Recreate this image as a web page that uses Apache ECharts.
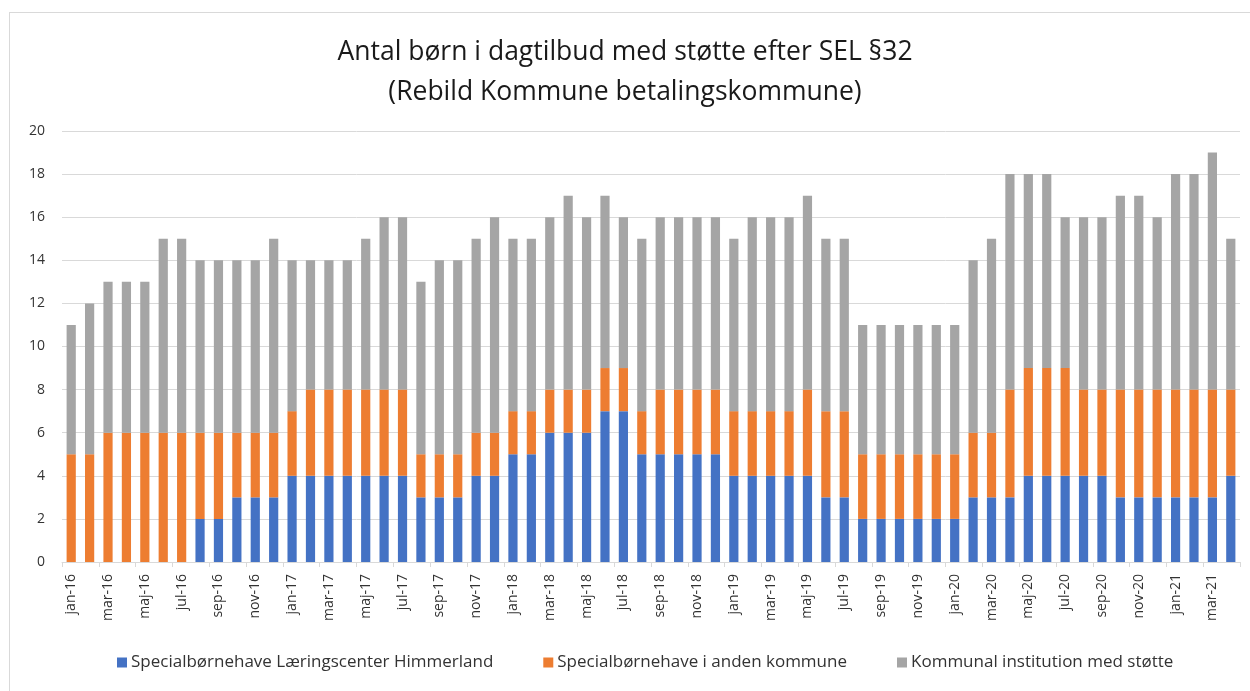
<!DOCTYPE html>
<html>
<head>
<meta charset="utf-8">
<script src="https://cdn.jsdelivr.net/npm/echarts@6/dist/echarts.min.js"></script>
<style>
html,body{margin:0;padding:0;background:#fff;}
#frame{position:absolute;left:9px;top:12px;width:1260px;height:700px;border:1px solid #d9d9d9;box-sizing:border-box;}
#chart{position:absolute;left:0;top:0;width:1250px;height:691px;}
</style>
</head>
<body>
<div id="frame"></div>
<div id="chart"></div>
<script>
const categories = [
 'jan-16','feb-16','mar-16','apr-16','maj-16','jun-16','jul-16','aug-16','sep-16','okt-16','nov-16','dec-16',
 'jan-17','feb-17','mar-17','apr-17','maj-17','jun-17','jul-17','aug-17','sep-17','okt-17','nov-17','dec-17',
 'jan-18','feb-18','mar-18','apr-18','maj-18','jun-18','jul-18','aug-18','sep-18','okt-18','nov-18','dec-18',
 'jan-19','feb-19','mar-19','apr-19','maj-19','jun-19','jul-19','aug-19','sep-19','okt-19','nov-19','dec-19',
 'jan-20','feb-20','mar-20','apr-20','maj-20','jun-20','jul-20','aug-20','sep-20','okt-20','nov-20','dec-20',
 'jan-21','feb-21','mar-21','apr-21'
];
const seriesNames = ['Specialbørnehave Læringscenter Himmerland','Specialbørnehave i anden kommune','Kommunal institution med støtte'];
const laeringscenter = [
 0,0,0,0,0,0,0,2,2,3,3,3,
 4,4,4,4,4,4,4,3,3,3,4,4,
 5,5,6,6,6,7,7,5,5,5,5,5,
 4,4,4,4,4,3,3,2,2,2,2,2,
 2,3,3,3,4,4,4,4,4,3,3,3,
 3,3,3,4
];
const andenKommune = [
 5,5,6,6,6,6,6,4,4,3,3,3,
 3,4,4,4,4,4,4,2,2,2,2,2,
 2,2,2,2,2,2,2,2,3,3,3,3,
 3,3,3,3,4,4,4,3,3,3,3,3,
 3,3,3,5,5,5,5,4,4,5,5,5,
 5,5,5,4
];
const kommunalInst = [
 6,7,7,7,7,9,9,8,8,8,8,9,
 7,6,6,6,7,8,8,8,9,9,9,10,
 8,8,8,9,8,8,7,8,8,8,8,8,
 8,9,9,9,9,8,8,6,6,6,6,6,
 6,8,9,10,9,9,7,8,8,9,9,8,
 10,10,11,7
];
const yTicks = [0,2,4,6,8,10,12,14,16,18,20];
const titleLines = ['Antal børn i dagtilbud med støtte efter SEL §32','(Rebild Kommune betalingskommune)'];

const colors = ['#4472c4','#ed7d31','#a5a5a5'];
const font = 'Open Sans';
const chart = echarts.init(document.getElementById('chart'), null, {renderer:'canvas'});
chart.setOption({
  animation:false,
  backgroundColor:'transparent',
  title:{
    text: titleLines.join('\n'),
    left:'center', top:27,
    textStyle:{fontFamily:font,fontSize:26.5,fontWeight:'normal',color:'#1a1a1a',lineHeight:40}
  },
  legend:{
    bottom:15, left:112,
    itemWidth:10,itemHeight:10,itemGap:50,
    icon:'rect',
    textStyle:{fontFamily:font,fontSize:17,color:'#333',padding:[0,0,0,-1]},
    data: seriesNames
  },
  grid:{left:62,right:10,top:131,bottom:129,containLabel:false},
  xAxis:{
    type:'category',
    data:categories,
    axisLine:{lineStyle:{color:'#d9d9d9'}},
    axisTick:{show:true,interval:1,length:5,lineStyle:{color:'#d9d9d9'}},
    axisLabel:{interval:1,rotate:90,fontFamily:font,fontSize:14,color:'#333',margin:12}
  },
  yAxis:{
    type:'value',min:0,max:20,interval:2,
    axisLine:{show:false},axisTick:{show:false},
    splitLine:{lineStyle:{color:'#d9d9d9'}},
    axisLabel:{fontFamily:font,fontSize:14,color:'#333',margin:17,
      formatter:v=>yTicks.includes(v)?String(v):''}
  },
  series:[
    {name:seriesNames[0],type:'bar',stack:'a',data:laeringscenter,itemStyle:{color:colors[0]},barWidth:'50%'},
    {name:seriesNames[1],type:'bar',stack:'a',data:andenKommune,itemStyle:{color:colors[1]},barWidth:'50%'},
    {name:seriesNames[2],type:'bar',stack:'a',data:kommunalInst,itemStyle:{color:colors[2]},barWidth:'50%'}
  ]
});
</script>
</body>
</html>
